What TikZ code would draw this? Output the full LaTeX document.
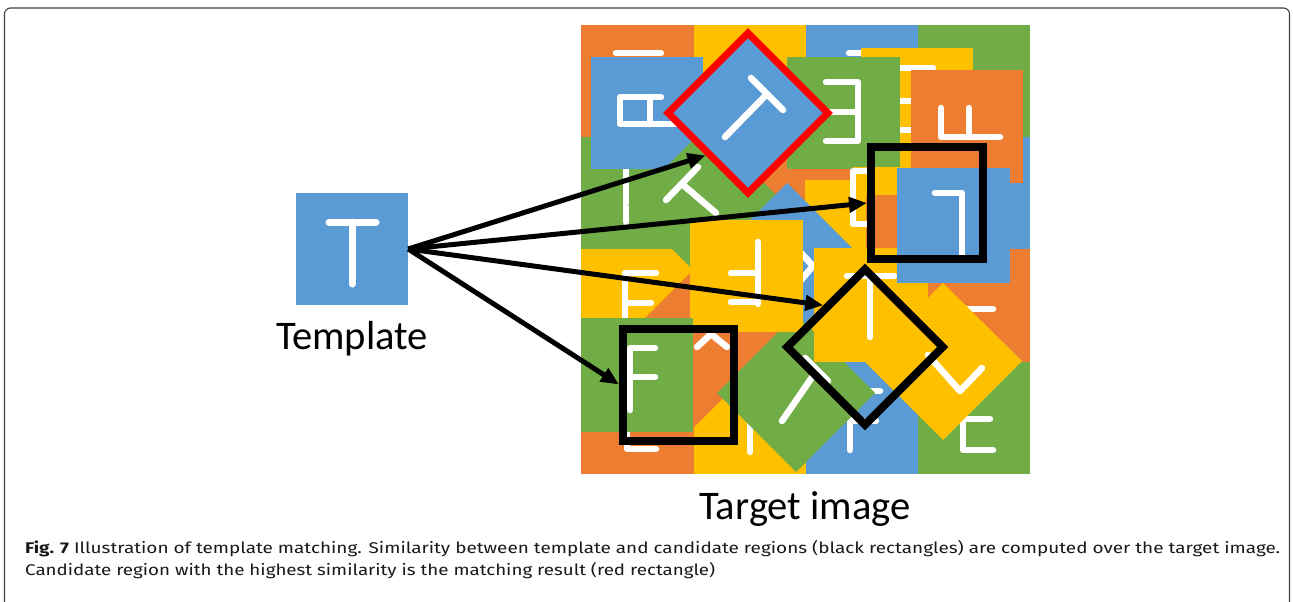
\documentclass[tikz,border=0pt]{standalone}
\usepackage{fontspec}
\usepackage{graphicx}
\newfontfamily\carlito{Carlito}
\newfontfamily\fira{Fira Sans}
\usetikzlibrary{arrows.meta}
\definecolor{cO}{HTML}{ED7D31}
\definecolor{cY}{HTML}{FFC000}
\definecolor{cB}{HTML}{5B9BD5}
\definecolor{cG}{HTML}{70AD47}
\definecolor{cR}{HTML}{FF0000}
\begin{document}
\begin{tikzpicture}[x=1pt,y=-1pt,
  glyph/.style={white,line width=6.5pt,line cap=round,line join=round},
  cand/.style={draw=black,line width=8pt,minimum size=112pt,inner sep=0pt},
  arr/.style={line width=5pt,-{Triangle[length=18pt,width=15pt]}},
  lbl/.style={font=\carlito\fontsize{40.6}{48}\selectfont,inner sep=0pt,anchor=base},
  captext/.style={font=\fira\fontsize{15.5}{18}\selectfont,inner sep=0pt,anchor=base west,text=black!90}]
\useasboundingbox (0,0) rectangle (1293,602);
\fill[white] (0,0) rectangle (1293,602);
\begin{scope}
  \clip (0,0) rectangle (1293,602);
  \draw[rounded corners=6pt,line width=1.1pt,black!75] (4.5,8) rectangle (1289.5,640);
\end{scope}

% ---- template
\node[fill=cB,minimum size=112pt,inner sep=0pt] (tmpl) at (352,249) {};
\draw[glyph,line width=7pt] (329,222) -- (376,222) (352,222) -- (352,284);
\node[lbl] (tlabel) at (352,349) {Template};

% ---- target image: base grid
\fill[cO] (581,25) rectangle (694,137);
\fill[cY] (694,25) rectangle (806,137);
\fill[cB] (806,25) rectangle (918,137);
\fill[cG] (918,25) rectangle (1030,137);
\fill[cG] (581,137) rectangle (694,249);
\fill[cO] (694,137) rectangle (918,249);
\fill[cB] (918,137) rectangle (1030,249);
\fill[cY] (581,249) rectangle (694,362);
\fill[cO] (694,249) rectangle (806,362);
\fill[cY] (806,249) rectangle (918,362);
\fill[cO] (918,249) rectangle (1030,362);
\fill[cO] (581,362) rectangle (694,474);
\fill[cY] (694,362) rectangle (806,474);
\fill[cB] (806,362) rectangle (918,474);
\fill[cG] (918,362) rectangle (1030,474);
% base glyphs
\draw[glyph] (616,53) -- (661,53);
\draw[glyph] (849,53) -- (880,53);
\draw[glyph] (626,163) -- (626,222);
\draw[glyph] (656,273) -- (625,273) -- (625,330) (625,303) -- (651,303);
\draw[glyph] (960,309) -- (993,309);
\draw[glyph] (627,430) -- (627,449) -- (656,449);
\draw[glyph] (750,420) -- (750,452);
\draw[glyph] (850,415) -- (850,450) (850,421) -- (876,421) (868,391) -- (880,391);
\draw[glyph] (990,419) -- (963,419) -- (963,450) -- (993,450);

% blue tile (upper left)
\fill[cB] (591,57) rectangle (703,169);
\draw[glyph] (678,124) -- (620,124) -- (620,97) -- (661,97) (650,97) -- (650,124);
% orange diamond
\fill[cO] (606.5,356.5) -- (691.5,271.5) -- (770.5,350.5) -- (685.5,435.5) -- cycle;
\draw[glyph] (697,347) -- (711,334) -- (727,347);
% green diamond 1
\fill[cG] (628,205) -- (707,126) -- (786,205) -- (707,284) -- cycle;
\draw[glyph] (666,200) -- (698,167) (682,184) -- (716,213);
% yellow tile behind green
\fill[cY] (861,48) rectangle (973,168);
\draw[glyph] (890,68) -- (933,68) (885,101) -- (915,101) (885,130) -- (915,130);
% green tile
\fill[cG] (787,57) rectangle (900,169);
\draw[glyph] (826,82) -- (858,82) -- (858,141) -- (826,141) (826,112) -- (858,112);
% orange tile
\fill[cO] (911,70) rectangle (1023,183);
\draw[glyph] (941,108) -- (941,137) -- (1000,137) (969,108) -- (969,137);
% yellow region middle
\fill[cY] (805,180) rectangle (897,292);
\fill[cY] (853,167) rectangle (900,195);
\fill[cO] (866,195) rectangle (897,248);
\draw[glyph] (869,171) -- (853,171) -- (853,224) -- (867,224);
% blue diamond 2
\fill[cB] (708,262) -- (787,183) -- (866,262) -- (787,341) -- cycle;
\draw[glyph] (801,253) -- (813,266) -- (801,280);
% green diamond 2
\fill[cG] (717,393) -- (796,314) -- (875,393) -- (796,472) -- cycle;
\draw[glyph] (805,358) -- (828,381) (817,370) -- (782,421);
% yellow tile with rotated F
\fill[cY] (690,220) rectangle (803,332);
\draw[glyph] (758,242) -- (758,304) (731,273) -- (758,273) (731,302) -- (758,302);
% green F tile
\fill[cG] (581,318) rectangle (693,432);
\draw[glyph] (655,348) -- (630,348) -- (630,410) (630,377) -- (655,377);
% yellow T tile
\fill[cY] (814,248) rectangle (928,362);
\draw[glyph] (847,276) -- (894,276) (870,276) -- (870,337);
% blue tile right
\fill[cB] (897,168) rectangle (1010,283);
\draw[glyph] (935,193) -- (962,193) -- (962,255);
% yellow diamond 3
\fill[cY] (864,361) -- (943,283) -- (1022,361) -- (943,440) -- cycle;
\draw[glyph] (928,355) -- (960,391) -- (982,368);

% ---- matching result and candidates
\node[draw=cR,fill=cB,line width=7pt,minimum size=113pt,inner sep=0pt,rotate=45] (best) at (748,113) {};
\draw[glyph] (751,78) -- (783,110) (767,94) -- (725,137);
\node[cand] (c1) at (927,203) {};
\node[cand,minimum size=110pt,rotate=45] (c2) at (865,347) {};
\node[cand,minimum width=111pt] (c3) at (678.5,384.5) {};

% ---- arrows
\draw[arr] (tmpl.east) -- (best.west);
\draw[arr] (tmpl.east) -- (c1.west);
\draw[arr] (tmpl.east) -- (c2.north);
\draw[arr] (tmpl.east) -- (c3.west);

\node[lbl] (tglabel) at (805,519) {Target image};

% ---- caption
\node[captext] (cap1) at (25,553) {\resizebox{1255pt}{\height}{\textbf{Fig. 7} Illustration of template matching. Similarity between template and candidate regions (black rectangles) are computed over the target image.}};
\node[captext] (cap2) at (25,575) {\resizebox{690pt}{\height}{Candidate region with the highest similarity is the matching result (red rectangle)}};
\end{tikzpicture}
\end{document}
